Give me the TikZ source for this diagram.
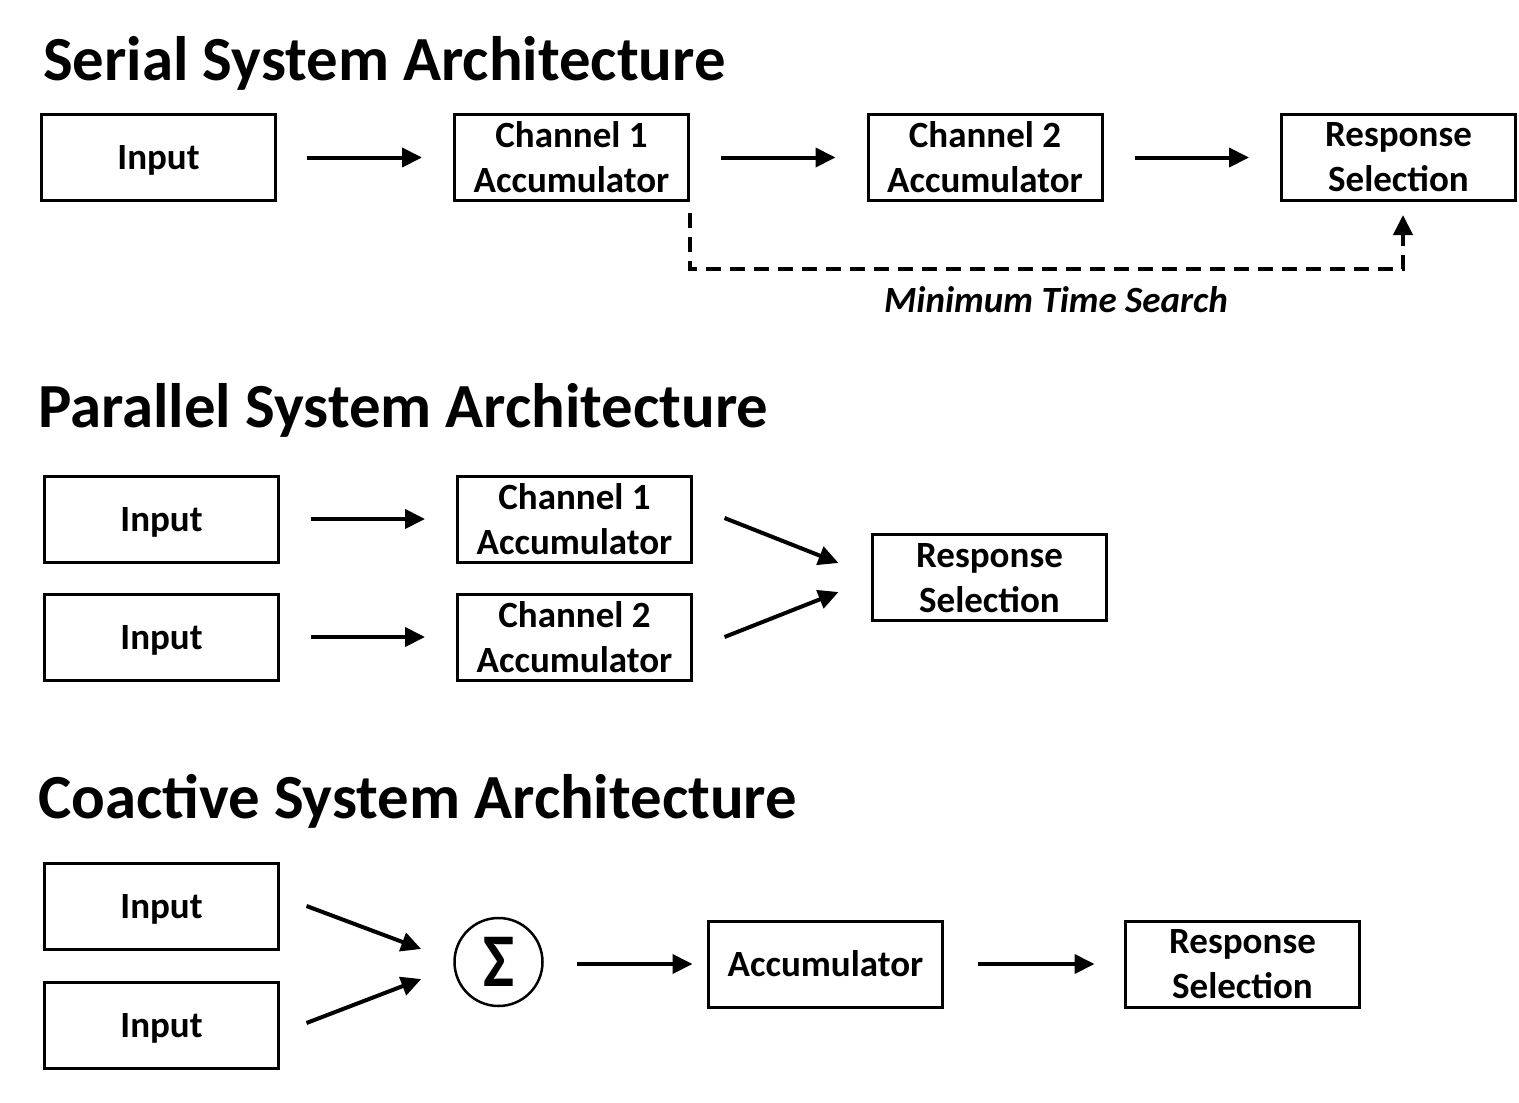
\documentclass[tikz,border=0pt]{standalone}
\usepackage{fontspec}
\usepackage{graphicx}
\setmainfont{Carlito}
\usetikzlibrary{arrows.meta,calc}
\tikzset{
  boxnode/.style={draw, line width=3pt, minimum width=234pt, minimum height=86pt,
    inner sep=0pt, align=center, text depth=0pt, font=\fontsize{37}{45}\selectfont\bfseries},
  titlenode/.style={anchor=base west, inner sep=0pt, font=\fontsize{62.8}{70}\selectfont\bfseries},
  arr/.style={line width=4pt, -{Triangle[length=20pt,width=19pt]}},
  dasharr/.style={line width=4pt, dash pattern=on 15pt off 9pt, -{Triangle[length=20pt,width=19pt]}},
  sumnode/.style={draw, circle, line width=2.5pt, minimum size=88pt, inner sep=0pt}
}
\begin{document}
\begin{tikzpicture}[x=1pt,y=-1pt]
\useasboundingbox (0,0) rectangle (1519,1103);
% Serial
\node[titlenode] (t1) at (43,80) {Serial System Architecture};
\node[boxnode] (sin) at (158.5,157.5) {Input};
\node[boxnode] (sch1) at (571.5,157.5) {Channel 1\\Accumulator};
\node[boxnode] (sch2) at (985,157.5) {Channel 2\\Accumulator};
\node[boxnode] (sresp) at (1398.5,157.5) {Response\\Selection};
\draw[arr, shorten <=30pt, shorten >=31pt] (sin.east) -- (sch1.west);
\draw[arr, shorten <=31pt, shorten >=31pt] (sch1.east) -- (sch2.west);
\draw[arr, shorten <=31pt, shorten >=31pt] (sch2.east) -- (sresp.west);
\coordinate (dstart) at ($(sch1.south east)+(0,11)$);
\coordinate (dend) at ($(sresp.south)+(4.5,13)$);
\draw[dasharr] (dstart) -- ++(0,56) -| (dend);
\node[inner sep=0pt, font=\fontsize{37}{45}\selectfont\bfseries\itshape] (mts) at (1056,300) {Minimum Time Search};
% Parallel
\node[titlenode] (t2) at (38,427) {Parallel System Architecture};
\node[boxnode] (pin1) at (161.5,519) {Input};
\node[boxnode] (pin2) at (161.5,637) {Input};
\node[boxnode] (pch1) at (574.5,519) {Channel 1\\Accumulator};
\node[boxnode] (pch2) at (574.5,637) {Channel 2\\Accumulator};
\node[boxnode] (presp) at (989.5,577.5) {Response\\Selection};
\draw[arr, shorten <=31pt, shorten >=31pt] (pin1.east) -- (pch1.west);
\draw[arr, shorten <=31pt, shorten >=31pt] (pin2.east) -- (pch2.west);
\draw[arr] ($(pch1.east)+(31.5,-1)$) -- ($(presp.west)+(-32.5,-14.5)$);
\draw[arr] ($(pch2.east)+(31.5,0)$) -- ($(presp.west)+(-32.5,14.5)$);
% Coactive
\node[titlenode] (t3) at (38,818) {Coactive System Architecture};
\node[boxnode] (cin1) at (161.5,906) {Input};
\node[boxnode] (cin2) at (161.5,1025) {Input};
\node[sumnode] (sum) at (498.5,962) {\fontsize{66}{70}\selectfont\bfseries\scalebox{1}[1.15]{Σ}};
\node[boxnode] (cacc) at (825.5,964) {Accumulator};
\node[boxnode] (cresp) at (1242.5,964) {Response\\Selection};
\draw[arr] ($(cin1.east)+(26.5,0)$) -- ($(sum.west)+(-32,-13)$);
\draw[arr] ($(cin2.east)+(26.5,-2)$) -- ($(sum.west)+(-32,17)$);
\draw[arr, shorten <=33pt, shorten >=14.5pt] (sum.east |- cacc.west) -- (cacc.west);
\draw[arr, shorten <=33.5pt, shorten >=29.5pt] (cacc.east) -- (cresp.west);
\end{tikzpicture}
\end{document}
